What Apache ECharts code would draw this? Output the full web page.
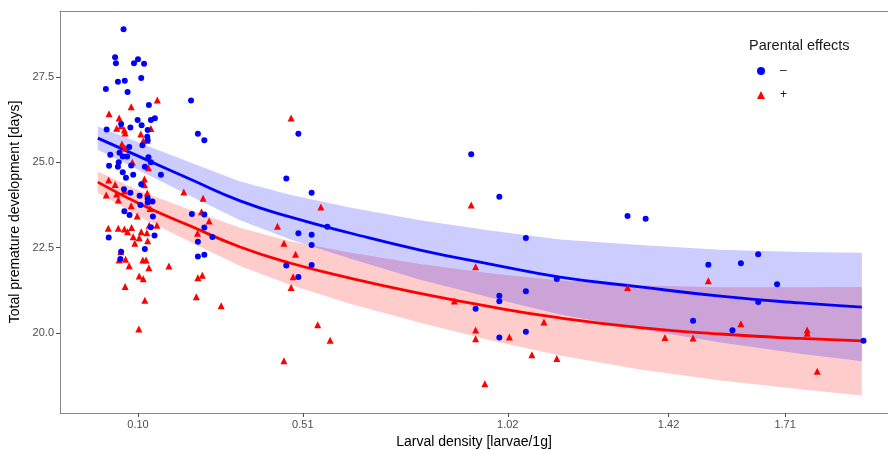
<!DOCTYPE html>
<html>
<head>
<meta charset="utf-8">
<script src="https://cdn.jsdelivr.net/npm/echarts@6/dist/echarts.min.js"></script>
<style>
html,body{margin:0;padding:0;background:#fff;}
#chart{width:888px;height:450px;}
</style>
</head>
<body>
<div id="chart"></div>
<script>
// Tick labels
const xTicks = [0.10, 0.51, 1.02, 1.42, 1.71];
const yTicks = [20.0, 22.5, 25.0, 27.5];

// Fitted curves and confidence bands
const fitX      = [0.000, 0.105, 0.229, 0.354, 0.478, 0.627, 0.802, 0.976, 1.150, 1.349, 1.549, 1.747, 1.901];
const blueFit   = [25.71, 25.16, 24.51, 23.87, 23.40, 22.93, 22.43, 22.02, 21.64, 21.35, 21.08, 20.88, 20.76];
const blueUpper = [26.05, 25.57, 25.00, 24.44, 24.05, 23.68, 23.30, 23.00, 22.74, 22.58, 22.44, 22.37, 22.35];
const blueLower = [25.37, 24.75, 24.02, 23.30, 22.75, 22.18, 21.56, 21.04, 20.54, 20.12, 19.72, 19.39, 19.17];
const redFit    = [24.42, 23.78, 23.14, 22.52, 22.05, 21.61, 21.16, 20.77, 20.44, 20.16, 19.97, 19.84, 19.77];
const redUpper  = [24.73, 24.16, 23.61, 23.08, 22.69, 22.36, 22.02, 21.75, 21.54, 21.39, 21.34, 21.34, 21.35];
const redLower  = [24.11, 23.40, 22.67, 21.96, 21.41, 20.86, 20.30, 19.79, 19.34, 18.93, 18.61, 18.35, 18.17];

// Observations: parental effects "–" (blue circles)
const blueX = [0.064,0.043,0.045,0.090,0.100,0.115,0.020,0.050,0.067,0.108,
               0.074,0.127,0.232,0.099,0.109,0.132,0.142,0.022,0.081,0.124,
               0.058,0.249,0.265,0.123,0.124,0.111,0.078,0.054,0.031,0.062,
               0.073,0.052,0.028,0.050,0.083,0.126,0.132,0.117,0.062,0.088,
               0.070,0.157,0.108,0.065,0.081,0.104,0.124,0.136,0.124,0.106,
               0.066,0.079,0.137,0.234,0.265,0.132,0.265,0.027,0.141,0.249,
               0.285,0.117,0.058,0.056,0.249,0.265,
               0.499,0.469,0.532,0.499,0.532,0.532,0.571,0.469,0.499,0.532,
               0.929,0.999,1.065,0.999,0.999,0.940,1.065,0.999,1.065,1.142,
               1.318,1.363,1.519,1.600,1.643,1.690,1.643,1.481,1.579,1.905];
const blueY = [28.90,28.08,27.90,27.90,28.02,27.89,27.15,27.36,27.39,27.47,
               27.06,26.68,26.81,26.24,26.09,26.24,26.29,25.96,26.02,25.95,
               26.12,25.84,25.65,25.75,25.65,25.50,25.45,25.28,25.22,25.17,
               25.17,25.00,24.90,24.87,24.91,25.15,25.00,24.87,24.71,24.64,
               24.55,24.64,24.36,24.21,24.11,24.02,23.94,23.85,23.82,23.75,
               23.57,23.46,23.41,23.49,23.47,23.10,23.09,22.80,22.86,22.67,
               22.81,22.46,22.38,22.17,22.24,22.29,
               25.84,24.53,24.11,22.92,22.88,22.58,23.11,21.98,21.64,21.99,
               25.24,23.99,22.78,21.09,20.93,20.71,21.22,19.87,20.04,21.58,
               23.43,23.35,22.00,22.04,22.31,21.43,20.91,20.36,20.08,19.77];

// Observations: parental effects "+" (red triangles)
const redX = [0.148,0.083,0.028,0.053,0.047,0.058,0.066,0.068,0.132,0.107,
              0.113,0.123,0.060,0.067,0.086,0.126,0.116,0.027,0.043,0.116,
              0.021,0.047,0.066,0.123,0.214,0.262,0.051,0.083,0.098,0.130,
              0.258,0.277,0.128,0.147,0.026,0.051,0.066,0.074,0.084,0.108,
              0.122,0.088,0.103,0.124,0.092,0.248,0.057,0.053,0.069,0.112,
              0.120,0.078,0.127,0.177,0.103,0.113,0.249,0.260,0.068,0.245,
              0.117,0.307,0.102,0.447,
              0.481,0.555,0.463,0.492,0.486,0.481,0.547,0.578,0.463,0.929,
              0.940,0.887,0.940,0.940,0.963,1.024,1.080,1.110,1.142,
              1.318,1.519,1.600,1.411,1.481,1.765,1.765,1.790];
const redY = [26.83,26.63,26.42,26.30,26.00,26.07,25.95,25.86,25.99,25.83,
              25.63,25.65,25.54,25.42,25.00,24.84,24.51,24.48,24.35,24.34,
              24.04,24.07,24.16,24.10,24.13,23.95,23.90,23.73,23.43,23.65,
              23.55,23.28,23.16,23.16,23.07,23.07,23.05,22.97,23.09,22.97,
              22.94,22.82,22.79,22.70,22.63,22.92,22.38,22.14,22.16,22.14,
              22.14,21.97,21.91,21.96,21.67,21.59,21.62,21.69,21.36,21.06,
              20.96,20.80,20.12,23.13,
              26.30,23.69,22.63,22.31,21.65,21.33,20.24,19.79,19.19,23.75,
              21.94,20.94,20.09,19.83,18.51,19.88,19.36,20.32,19.25,
              21.33,21.53,20.27,19.87,19.85,20.09,19.99,18.88];

const FONT = "'Liberation Sans', Arial, Helvetica, sans-serif";
const X_MIN = -0.0941, X_MAX = 1.966;

function bandSeries(name, lower, upper, fill, z) {
  return {
    type: 'custom',
    name: name,
    z: z,
    silent: true,
    data: fitX.map((x, i) => [x, lower[i], upper[i]]),
    encode: { x: 0, y: [1, 2] },
    renderItem: function (params, api) {
      if (params.dataIndex !== 0) return;
      const pts = [];
      for (let i = 0; i < fitX.length; i++) pts.push(api.coord([fitX[i], upper[i]]));
      for (let i = fitX.length - 1; i >= 0; i--) pts.push(api.coord([fitX[i], lower[i]]));
      return { type: 'polygon', shape: { points: pts, smooth: 0 }, style: { fill: fill, stroke: null } };
    }
  };
}

const chart = echarts.init(document.getElementById('chart'), null, { renderer: 'canvas' });
chart.setOption({
  animation: false,
  backgroundColor: '#ffffff',
  textStyle: { fontFamily: FONT },
  title: {
    text: 'Parental effects',
    left: 749, top: 38, padding: 0,
    textStyle: { fontSize: 14.5, fontWeight: 'normal', color: '#1a1a1a', fontFamily: FONT }
  },
  legend: {
    data: ['–', '+'],
    orient: 'vertical',
    left: 757, top: 65, padding: 0,
    itemWidth: 8, itemHeight: 8, itemGap: 12,
    textStyle: { fontSize: 12, color: '#1a1a1a', fontFamily: FONT, padding: [0, 0, 0, 10] }
  },
  grid: {
    left: 60, top: 11, right: 0, bottom: 37,
    outerBoundsMode: 'none',
    containLabel: false,
    show: false
  },
  xAxis: [{
    type: 'value',
    min: X_MIN, max: X_MAX,
    name: 'Larval density [larvae/1g]',
    nameLocation: 'middle', nameGap: 20,
    nameTextStyle: { fontSize: 14, color: '#000', fontFamily: FONT },
    axisLine: { show: true, onZero: false, lineStyle: { color: '#8a8a8a', width: 1 } },
    axisTick: { show: true, length: 4, customValues: xTicks, lineStyle: { color: '#4d4d4d' } },
    axisLabel: { customValues: xTicks, formatter: v => v.toFixed(2), fontSize: 11, color: '#4d4d4d', margin: 6, fontFamily: FONT },
    splitLine: { show: false }
  }, {
    type: 'value',
    position: 'top',
    min: X_MIN, max: X_MAX,
    axisLine: { show: true, onZero: false, lineStyle: { color: '#8a8a8a', width: 1 } },
    axisTick: { show: false },
    axisLabel: { show: false },
    splitLine: { show: false }
  }],
  yAxis: {
    type: 'value',
    min: 17.656, max: 29.434,
    name: 'Total premature development [days]',
    nameLocation: 'middle', nameGap: 35,
    nameTextStyle: { fontSize: 14, color: '#000', fontFamily: FONT },
    axisLine: { show: true, onZero: false, lineStyle: { color: '#8a8a8a', width: 1 } },
    axisTick: { show: true, length: 4, customValues: yTicks, lineStyle: { color: '#4d4d4d' } },
    axisLabel: { customValues: yTicks, formatter: v => v.toFixed(1), fontSize: 11, color: '#4d4d4d', margin: 6, fontFamily: FONT },
    splitLine: { show: false }
  },
  series: [
    bandSeries('band+', redLower, redUpper, 'rgba(255,0,0,0.2)', 1),
    bandSeries('band-', blueLower, blueUpper, 'rgba(0,0,255,0.2)', 2),
    {
      type: 'line', name: 'fit+', z: 3, silent: true, smooth: true, showSymbol: false, symbol: 'none',
      data: fitX.map((x, i) => [x, redFit[i]]),
      lineStyle: { color: '#ff0000', width: 2.8 }
    },
    {
      type: 'line', name: 'fit-', z: 3, silent: true, smooth: true, showSymbol: false, symbol: 'none',
      data: fitX.map((x, i) => [x, blueFit[i]]),
      lineStyle: { color: '#0000ff', width: 2.8 }
    },
    {
      type: 'scatter', name: '+', z: 4, symbol: 'triangle', symbolSize: 7,
      itemStyle: { color: '#ff0000', opacity: 1 },
      data: redX.map((x, i) => [x, redY[i]])
    },
    {
      type: 'scatter', name: '–', z: 5, symbol: 'circle', symbolSize: 6,
      itemStyle: { color: '#0000ff', opacity: 1 },
      data: blueX.map((x, i) => [x, blueY[i]])
    }
  ]
});
</script>
</body>
</html>
